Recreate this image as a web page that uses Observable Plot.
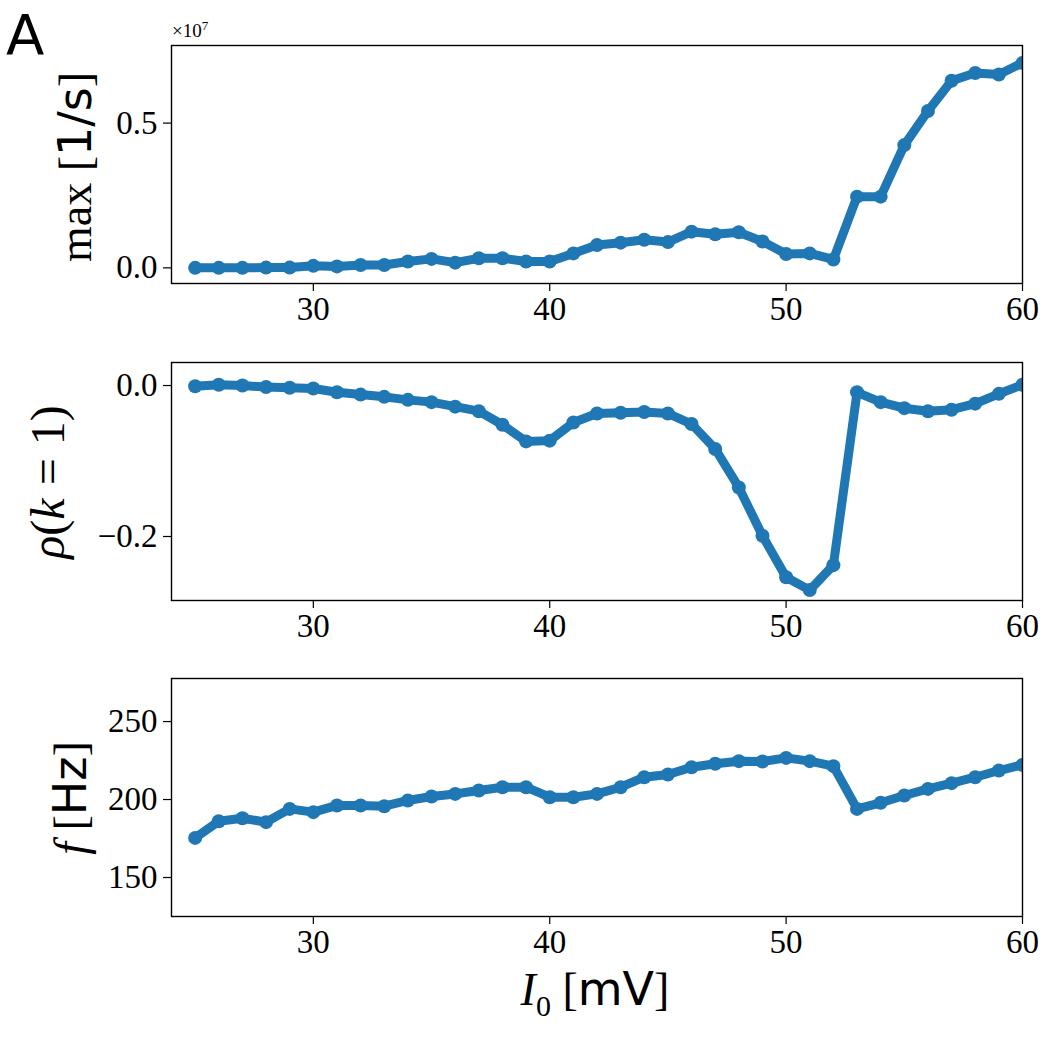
<!DOCTYPE html>
<html>
<head>
<meta charset="utf-8">
<script src="https://cdn.jsdelivr.net/npm/d3@7"></script>
<script src="https://cdn.jsdelivr.net/npm/@observablehq/plot@0.6"></script>
<style>
  html, body { margin: 0; padding: 0; background: white; }
  #root { position: relative; width: 1050px; height: 1050px; background: white; }
  #root svg { position: absolute; left: 0; background: transparent !important; }
  .lbl { position: absolute; white-space: nowrap; font-family: "Liberation Serif", serif; color: black; line-height: 1.2; }
  .rot { transform: translate(-50%, -50%) rotate(-90deg); }
  .sans { font-family: "DejaVu Sans", sans-serif; }
</style>
</head>
<body>
<div id="root"></div>
<script>
// ---- data ----
const I0 = [25, 26, 27, 28, 29, 30, 31, 32, 33, 34, 35, 36, 37, 38, 39, 40, 41, 42,
            43, 44, 45, 46, 47, 48, 49, 50, 51, 52, 53, 54, 55, 56, 57, 58, 59, 60];
// max rate, in units of 1e7 1/s
const maxRate = [0, 0, 0, 0.001, 0.001, 0.007, 0.005, 0.01, 0.01, 0.022, 0.031, 0.018,
                 0.033, 0.033, 0.022, 0.022, 0.05, 0.079, 0.087, 0.097, 0.089, 0.125, 0.116, 0.123,
                 0.091, 0.048, 0.05, 0.029, 0.246, 0.246, 0.424, 0.542, 0.646, 0.673, 0.668, 0.708];
const rho = [-0.001, 0.001, 0, -0.002, -0.003, -0.004, -0.009, -0.012, -0.015, -0.019, -0.022, -0.028,
             -0.034, -0.052, -0.074, -0.073, -0.049, -0.037, -0.036, -0.035, -0.037, -0.051, -0.084, -0.135,
             -0.199, -0.254, -0.271, -0.238, -0.009, -0.022, -0.030, -0.034, -0.032, -0.024, -0.011, 0.001];
const freq = [175.4, 186.1, 188.0, 185.5, 194.0, 191.9, 196.2, 196.2, 195.7, 199.4, 201.9, 203.6,
              205.8, 207.9, 207.9, 201.5, 201.5, 203.6, 207.9, 214.3, 216.0, 220.7, 222.9, 224.6,
              224.4, 226.7, 224.6, 221.4, 194.0, 197.9, 202.6, 206.8, 210.5, 214.3, 218.6, 222.2];
const xTicks = [30, 40, 50, 60];
const rateTicks = [0, 0.5];
const rhoTicks = [0, -0.2];
const freqTicks = [150, 200, 250];

// ---- layout ----
const root = document.getElementById("root");
const blue = "#1f77b4";
const W = 1050, ML = 171, MR = 28;

function panel(values, yDomain, yTicks, yFmt, top, mTop, mBottom, height) {
  const data = I0.map((x, i) => ({x, y: values[i]}));
  const svg = Plot.plot({
    width: W,
    height,
    marginLeft: ML,
    marginRight: MR,
    marginTop: mTop,
    marginBottom: mBottom,
    style: {fontFamily: "Liberation Serif, serif", background: "transparent", color: "black"},
    x: {domain: [24, 60]},
    y: {domain: yDomain},
    marks: [
      Plot.line(data, {x: "x", y: "y", stroke: blue, strokeWidth: 9, clip: true}),
      Plot.dot(data, {x: "x", y: "y", fill: blue, r: 7, clip: true}),
      Plot.frame({stroke: "black", strokeWidth: 1.4}),
      Plot.axisX({ticks: xTicks, tickFormat: "d", tickSize: 8, tickPadding: 5, fontSize: 33, label: null, stroke: "black", strokeWidth: 1.2}),
      Plot.axisY({ticks: yTicks, tickFormat: yFmt, tickSize: 8, tickPadding: 6, fontSize: 33, label: null, stroke: "black", strokeWidth: 1.2})
    ]
  });
  svg.style.top = top + "px";
  root.appendChild(svg);
}

panel(maxRate, [-0.054, 0.768], rateTicks, d3.format(".1f"), 0, 45, 47, 330);
panel(rho, [-0.2848, 0.0305], rhoTicks, d3.format(".1f"), 330, 32, 47, 317);
panel(freq, [125, 277.6], freqTicks, d3.format("d"), 647, 31, 134, 403);

function label(html, cls, css) {
  const d = document.createElement("div");
  d.className = "lbl " + cls;
  d.innerHTML = html;
  Object.assign(d.style, css);
  root.appendChild(d);
}

label("A", "sans", {left: "4px", top: "2px", fontSize: "56px", lineHeight: "66px", padding: "0 2px"});
label("&times;10<sup style='font-size:13px'>7</sup>", "", {left: "172px", top: "18px", fontSize: "19px"});
label("max [<span class='sans'>1/s</span>]", "rot", {left: "76px", top: "167px", fontSize: "46px"});
label("<i>ρ</i>(<i>k</i><span style='margin:0 13px'>=</span>1)", "rot", {left: "48px", top: "482px", fontSize: "48px"});
label("<i>f</i> [<span class='sans'>Hz</span>]", "rot", {left: "71px", top: "798px", fontSize: "46px"});
label("<i>I</i><sub style='font-size:30px'>0</sub> [<span class='sans'>mV</span>]", "", {left: "595px", top: "993px", fontSize: "46px", transform: "translate(-50%, -50%)"});
</script>
</body>
</html>
